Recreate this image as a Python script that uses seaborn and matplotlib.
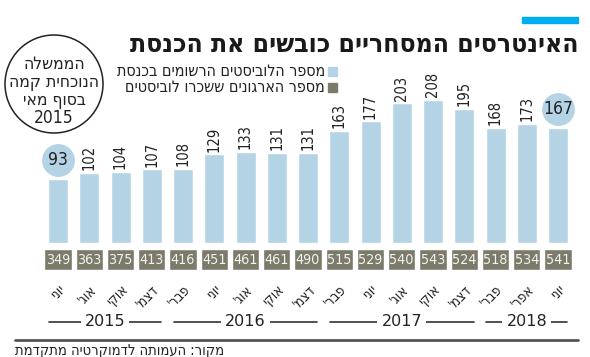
import matplotlib
matplotlib.use("Agg")
import matplotlib.pyplot as plt
import matplotlib.patches as mpatches
import seaborn as sns
import pandas as pd

# ---- data ----
months = ["יוני", "אוג'", "אוקי", "דצמ'",
          "פבר'", "יוני", "אוג'", "אוקי", "דצמ'",
          "פבר'", "יוני", "אוג'", "אוקי", "דצמ'",
          "פבר'", "אפר'", "יוני"]
lobbyists = [93, 102, 104, 107, 108, 129, 133, 131, 131, 163, 177, 203, 208, 195, 168, 173, 167]
organizations = [349, 363, 375, 413, 416, 451, 461, 461, 490, 515, 529, 540, 543, 524, 518, 534, 541]
years = ["2015", "2016", "2017", "2018"]
year_counts = [4, 5, 5, 3]
highlight = [0, 16]

title = "האינטרסים המסחריים כובשים את הכנסת"
legend_labels = ["מספר הלוביסטים הרשומים בכנסת", "מספר הארגונים ששכרו לוביסטים"]
circle_lines = ["הממשלה", "הנוכחית קמה", "בסוף מאי", "2015"]
source = "מקור: העמותה לדמוקרטיה מתקדמת"

BAR = "#b4d4e6"
BOX = "#7b7a6b"
ACCENT = "#00aeef"
DARK = "#222222"
COND = "condensed"


def rtl(s):
    # matplotlib lays glyphs out left to right; reverse for right-to-left display
    return s[::-1]


W, H = 590, 357
sns.set_style("white")
plt.rcParams["font.family"] = ["DejaVu Sans"]

fig = plt.figure(figsize=(W / 100, H / 100), dpi=100)


def fx(x):
    return x / W


def fy(y):
    return 1 - y / H


n = len(lobbyists)
spacing = 31.25
x0 = 58 - spacing / 2
axw = spacing * n

ymax = 240
scale = 0.6875
base = 243
ax = fig.add_axes([fx(x0), fy(base), axw / W, ymax * scale / H])
df = pd.DataFrame({"pos": list(range(n)), "val": lobbyists})
sns.barplot(data=df, x="pos", y="val", color=BAR, saturation=1, width=0.64, ax=ax)
ax.set_xlim(-0.5, n - 0.5)
ax.set_ylim(0, ymax)
ax.axis("off")

for i, v in enumerate(lobbyists):
    if i in highlight:
        ax.scatter([i], [v + 28], s=560, color=BAR, clip_on=False, zorder=3, linewidths=0)
        ax.text(i, v + 28, str(v), ha="center", va="center", fontsize=12.5,
                color=DARK, fontstretch=COND, zorder=4)
    else:
        ax.text(i, v + 4, str(v), ha="center", va="bottom", rotation=90,
                fontsize=10.5, color=DARK, fontstretch=COND)

bx_top, bx_bot = 249, 270
ax2 = fig.add_axes([fx(x0), fy(bx_bot), axw / W, (bx_bot - bx_top) / H])
ax2.bar(range(n), [1] * n, width=0.87, color=BOX)
ax2.set_xlim(-0.5, n - 0.5)
ax2.set_ylim(0, 1)
for i, v in enumerate(organizations):
    ax2.text(i, 0.5, str(v), ha="center", va="center", fontsize=10.3,
             color="#f4f4ee", fontstretch=COND)
for s in ax2.spines.values():
    s.set_visible(False)
ax2.set_yticks([])
ax2.set_xticks(range(n))
ax2.set_xticklabels([rtl(m) for m in months], rotation=45, ha="right", va="top",
                    rotation_mode="anchor", fontsize=10, color=DARK, fontstretch=COND)
ax2.tick_params(axis="x", length=0, pad=9)

start = 0
yrow = (fy(322) - fy(bx_bot)) / ((bx_bot - bx_top) / H)
for yr, cnt in zip(years, year_counts):
    a = start - 0.3
    b = start + cnt - 1 + 0.3
    ax2.plot([a, b], [yrow, yrow], color="#333333", lw=1.2, clip_on=False)
    mid = (start + start + cnt - 1) / 2
    ax2.text(mid, yrow, yr, ha="center", va="center", fontsize=11.5, color=DARK,
             bbox=dict(boxstyle="square,pad=0.25", fc="white", ec="none"))
    start += cnt

fig.add_artist(mpatches.Rectangle((fx(522), fy(23)), fx(56), 6 / H, color=ACCENT,
                                  transform=fig.transFigure))
fig.text(fx(578), fy(45), rtl(title), ha="right", va="center", fontsize=19,
         fontweight="bold", fontstretch=COND, color="#1a1a1a")

for k, (lab, col) in enumerate(zip(legend_labels, [BAR, BOX])):
    ytop = 67 + k * 16.5
    fig.add_artist(mpatches.Rectangle((fx(328), fy(ytop + 8.5)), fx(9), 8.5 / H, color=col,
                                      transform=fig.transFigure))
    fig.text(fx(325), fy(ytop + 4), rtl(lab), ha="right", va="center", fontsize=11.5,
             color=DARK, fontstretch=COND)

fig.add_artist(mpatches.Ellipse((fx(54), fy(84)), 98 / W, 98 / H, fill=False,
                                ec="#222222", lw=1.1, transform=fig.transFigure))
for k, line in enumerate(circle_lines):
    txt = line if line.isdigit() else rtl(line)
    fig.text(fx(54), fy(64 + k * 18), txt, ha="center", va="center", fontsize=12.5,
             color=DARK, fontstretch=COND)

fig.add_artist(plt.Line2D([fx(15), fx(578)], [fy(340), fy(340)], color="#555555", lw=2,
                          transform=fig.transFigure))
fig.text(fx(15), fy(350), rtl(source), ha="left", va="center", fontsize=10.5,
         color=DARK, fontstretch=COND)

fig.savefig("out.png", dpi=100)
